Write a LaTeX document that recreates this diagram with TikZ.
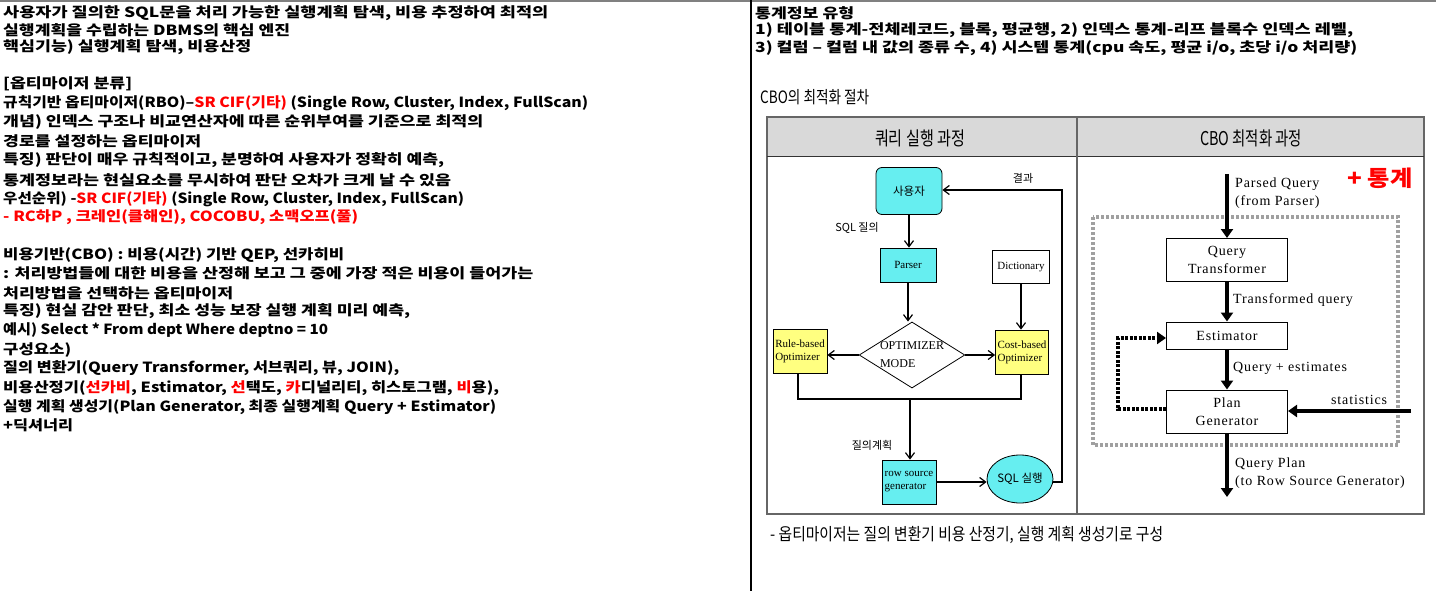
\documentclass[tikz,border=0pt]{standalone}
\usepackage{fontspec}
\usepackage{graphicx}
\setmainfont{Noto Sans CJK KR}
\newfontfamily\serifl{Liberation Serif}
\newfontfamily\serifw{Liberation Serif}[LetterSpace=6]
\usetikzlibrary{arrows.meta,shapes.geometric}
\definecolor{cy}{HTML}{66EEF0}
\definecolor{yl}{HTML}{FFFF80}
\definecolor{hdr}{HTML}{D9D9D9}
\definecolor{dotg}{HTML}{A0A0A0}
\newcommand{\rd}[1]{\textcolor{red}{#1}}
\newcommand{\fw}[2]{\resizebox{#1pt}{\height}{#2}}
\tikzset{
  x=1pt,y=-1pt,
  ltxt/.style={anchor=west,inner sep=0pt,font=\fontsize{14}{14}\selectfont\bfseries},
  dlab/.style={inner sep=0pt,font=\fontsize{11}{12}\selectfont},
  slab/.style={inner sep=0pt,font=\serifw\fontsize{14}{18}\selectfont,align=left,anchor=west},
  lbox/.style={draw=black,line width=0.8pt,inner sep=1pt,font=\serifl\fontsize{11}{13}\selectfont},
  rbox/.style={draw=black,line width=1pt,inner sep=1pt,font=\serifw\fontsize{14}{18}\selectfont,align=center},
  larr/.style={line width=1.2pt,-{Straight Barb[length=6pt,width=9pt]}},
  lline/.style={line width=1.2pt},
  barr/.style={line width=3.2pt,-{Triangle[length=9pt,width=12pt]}},
}
\begin{document}
\begin{tikzpicture}
\useasboundingbox (0,0) rectangle (1436,591);
\fill[white] (0,0) rectangle (1436,591);
\draw[gray,line width=1.5pt] (0,1) -- (1436,1);
\draw[black,line width=1.6pt] (751,0) -- (751,591);
% left column
\node[ltxt] (l1) at (3,13) {\fw{545}{사용자가 질의한 SQL문을 처리 가능한 실행계획 탐색, 비용 추정하여 최적의}};
\node[ltxt] (l2) at (3,30) {\fw{287}{실행계획을 수립하는 DBMS의 핵심 엔진}};
\node[ltxt] (l3) at (3,47) {\fw{248}{핵심기능) 실행계획 탐색, 비용산정}};
\node[ltxt] (l4) at (3,84) {\fw{129}{[옵티마이저 분류]}};
\node[ltxt] (l5) at (3,103) {\fw{585}{규칙기반 옵티마이저(RBO)–\rd{SR CIF(기타)} (Single Row, Cluster, Index, FullScan)}};
\node[ltxt] (l6) at (3,122) {\fw{480}{개념) 인덱스 구조나 비교연산자에 따른 순위부여를 기준으로 최적의}};
\node[ltxt] (l7) at (3,141) {\fw{198}{경로를 설정하는 옵티마이저}};
\node[ltxt] (l8) at (3,160) {\fw{441}{특징) 판단이 매우 규칙적이고, 분명하여 사용자가 정확히 예측,}};
\node[ltxt] (l9) at (3,180) {\fw{448}{통계정보라는 현실요소를 무시하여 판단 오차가 크게 날 수 있음}};
\node[ltxt] (l10) at (3,199) {\fw{461}{우선순위) -\rd{SR CIF(기타)} (Single Row, Cluster, Index, FullScan)}};
\node[ltxt] (l11) at (3,217) {\fw{355}{\rd{- RC하P , 크레인(클해인), COCOBU, 소맥오프(풀)}}};
\node[ltxt] (l12) at (3,255) {\fw{341}{비용기반(CBO) : 비용(시간) 기반 QEP, 선카히비}};
\node[ltxt] (l13) at (3,273) {\fw{530}{: 처리방법들에 대한 비용을 산정해 보고 그 중에 가장 적은 비용이 들어가는}};
\node[ltxt] (l14) at (3,293) {\fw{230}{처리방법을 선택하는 옵티마이저}};
\node[ltxt] (l15) at (3,311) {\fw{407}{특징) 현실 감안 판단, 최소 성능 보장 실행 계획 미리 예측,}};
\node[ltxt] (l16) at (3,330) {\fw{325}{예시) Select * From dept Where deptno = 10}};
\node[ltxt] (l17) at (3,350) {\fw{68}{구성요소)}};
\node[ltxt] (l18) at (3,368) {\fw{396}{질의 변환기(Query Transformer, 서브쿼리, 뷰, JOIN),}};
\node[ltxt] (l19) at (3,388) {\fw{496}{비용산정기(\rd{선카비}, Estimator, \rd{선}택도, \rd{카}디널리티, 히스토그램, \rd{비}용),}};
\node[ltxt] (l20) at (3,407) {\fw{493}{실행 계획 생성기(Plan Generator, 최종 실행계획 Query + Estimator)}};
\node[ltxt] (l21) at (3,425) {\fw{70}{+딕셔너리}};
% right text
\node[ltxt] (r1) at (755,13) {\fw{99}{통계정보 유형}};
\node[ltxt] (r2) at (755,30) {\fw{598}{1) 테이블 통계-전체레코드, 블록, 평균행, 2) 인덱스 통계-리프 블록수 인덱스 레벨,}};
\node[ltxt] (r3) at (755,48) {\fw{602}{3) 컬럼 – 컬럼 내 값의 종류 수, 4) 시스템 통계(cpu 속도, 평균 i/o, 초당 i/o 처리량)}};
\node[anchor=west,inner sep=0pt,font=\fontsize{17}{17}\selectfont] (cbo) at (760,97) {\fw{109}{CBO의 최적화 절차}};
% figure frame
\fill[hdr] (767,117) rectangle (1424,157);
\draw[gray!80!black,line width=1.2pt] (767,117) rectangle (1424,514);
\draw[black!80,line width=1pt] (767,157) -- (1424,157);
\draw[gray!80!black,line width=1.2pt] (1077,117) -- (1077,514);
\node[font=\fontsize{19}{19}\selectfont] (h1) at (920,138) {\fw{90}{쿼리 실행 과정}};
\node[font=\fontsize{19}{19}\selectfont] (h2) at (1251,138) {\fw{102}{CBO 최적화 과정}};
% left flowchart
\node[lbox,fill=cy,rounded corners=6pt,minimum width=66pt,minimum height=47pt,font=\fontsize{11.5}{12}\selectfont] (user) at (909,191) {사용자};
\node[lbox,fill=cy,minimum width=56pt,minimum height=34pt] (parser) at (908,265) {Parser};
\node[lbox,fill=white,minimum width=57pt,minimum height=33pt] (dict) at (1021,267) {Dictionary};
\node[diamond,draw=black,line width=0.8pt,fill=white,minimum width=105pt,minimum height=65pt,aspect=1.6,inner sep=0pt,font=\serifl\fontsize{12}{18}\selectfont,align=left] (mode) at (912,355) {OPTIMIZER\\MODE};
\node[lbox,fill=yl,minimum width=54pt,minimum height=44pt,align=left] (rule) at (800,351) {Rule-based\\Optimizer};
\node[lbox,fill=yl,minimum width=53pt,minimum height=44pt,align=left] (cost) at (1022,352) {Cost-based\\Optimizer};
\node[lbox,fill=cy,minimum width=54pt,minimum height=44pt,align=left] (rsg) at (909,482) {row source\\generator};
\node[ellipse,draw=black,line width=0.8pt,fill=cy,minimum width=66pt,minimum height=48pt,inner sep=0pt,font=\fontsize{11.5}{12}\selectfont] (exec) at (1020,479) {SQL 실행};
\coordinate (j) at (910,399);
\coordinate (jl) at (798,399);
\coordinate (jr) at (1021,399);
\coordinate (c1) at (1062,482);
\coordinate (c2) at (1062,190);
\draw[larr] (user) -- (user|-parser.north);
\draw[larr] (parser) -- (parser|-mode.north);
\draw[larr] (dict) -- (dict|-cost.north);
\draw[larr] (mode.west) -- (rule.east|-mode.west);
\draw[larr] (mode.east) -- (cost.west|-mode.east);
\draw[lline] (jl|-rule.south) -- (jl) -- (jr) -- (jr|-cost.south);
\draw[larr] (j) -- (j|-rsg.north);
\draw[larr] (rsg.east|-c1) -- (exec.west|-c1);
\draw[larr] (exec.east|-c1) -- (c1) -- (c2) -- (user.east|-c2);
\node[dlab] (lres) at (1023,178) {결과};
\node[dlab] (lsql) at (857,228) {SQL 질의};
\node[dlab] (lplan) at (872,445) {질의계획};
% right flowchart
\draw[dotg,line width=3.5pt,dash pattern=on 3pt off 2pt] (1093,217) rectangle (1398,445);
\node[rbox,fill=white,minimum width=121pt,minimum height=43pt] (qt) at (1227,260) {Query\\Transformer};
\node[rbox,fill=white,minimum width=121pt,minimum height=27pt] (est) at (1227,335.5) {Estimator};
\node[rbox,fill=white,minimum width=121pt,minimum height=43pt] (pg) at (1227,411.5) {Plan\\Generator};
\coordinate (top) at (1227,174);
\coordinate (bot) at (1227,497);
\coordinate (st) at (1411,411);
\coordinate (lp1) at (1118,409);
\coordinate (lp2) at (1118,338);
\draw[barr] (top) -- (qt);
\draw[barr] (qt) -- (est);
\draw[barr] (est) -- (pg);
\draw[barr] (pg) -- (bot);
\draw[barr] (st) -- (pg.east|-st);
\draw[line width=3.5pt,dash pattern=on 3pt off 1.5pt] (pg.west|-lp1) -- (lp1) -- (lp2) -- ([xshift=-8pt]est.west|-lp2);
\draw[-{Triangle[length=9pt,width=12pt]},line width=3.5pt] ([xshift=-9pt]est.west|-lp2) -- (est.west|-lp2);
\node[slab] (pq) at (1235,193) {Parsed Query\\(from Parser)};
\node[slab] (tq) at (1233,300) {Transformed query};
\node[slab] (qe) at (1233,368) {Query + estimates};
\node[slab] (stl) at (1331,400) {statistics};
\node[slab] (qp) at (1235,473) {Query Plan\\(to Row Source Generator)};
\node[text=red,font=\fontsize{22}{22}\selectfont\bfseries,inner sep=0pt] (tg) at (1380,178) {\fw{65}{+ 통계}};
% caption
\node[anchor=west,inner sep=0pt,font=\fontsize{17}{17}\selectfont] (cap) at (770,535) {\fw{393}{- 옵티마이저는 질의 변환기 비용 산정기, 실행 계획 생성기로 구성}};
\end{tikzpicture}
\end{document}
